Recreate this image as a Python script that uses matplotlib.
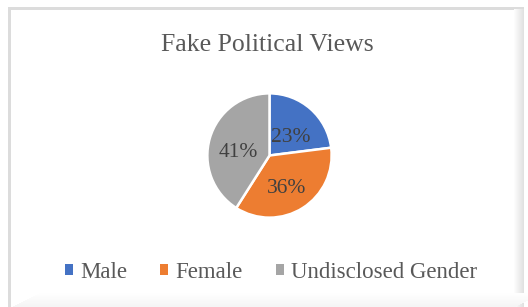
import numpy as np
import matplotlib
matplotlib.use("Agg")
import matplotlib.pyplot as plt
from matplotlib.patches import Rectangle

# Data
categories = ["Male", "Female", "Undisclosed Gender"]
shares = [23, 36, 41]
colors = ["#4472C4", "#ED7D31", "#A5A5A5"]
title = "Fake Political Views"

plt.rcParams["font.family"] = ["Liberation Serif", "DejaVu Serif"]

W, H = 528, 307
fig = plt.figure(figsize=(W / 100, H / 100), dpi=100)
fig.patch.set_facecolor("white")

# --- frame (beveled Excel-ish border) ---
def px(x, y, w, h, c):
    fig.patches.append(Rectangle((x / W, 1 - (y + h) / H), w / W, h / H,
                                 transform=fig.transFigure, facecolor=c,
                                 edgecolor="none", zorder=0))

px(8, 7, 516, 3, "#dcdcdc")      # top
px(8, 7, 3, 300, "#dcdcdc")      # left
for i in range(10):               # right shading
    g = 0.99 - 0.012 * i
    px(514 + i, 9, 1, 298, (g, g, g))
for i in range(14):               # bottom shading
    g = 0.998 - 0.003 * i
    px(11 + 28 - 2 * i, 293 + i, 503, 1, (g, g, g))

# --- pie ---
cx, cy, r = 269.5, 155.5, 62
ax = fig.add_axes([(cx - r - 2) / W, 1 - (cy + r + 2) / H,
                   (2 * r + 4) / W, (2 * r + 4) / H])
wedges, texts, autotexts = ax.pie(
    shares, colors=colors, startangle=90, counterclock=False,
    autopct="%d%%", pctdistance=0.52,
    wedgeprops=dict(edgecolor="white", linewidth=1.8),
    textprops=dict(color="#404040", fontsize=15.5))
# labels sit a little lower in the original
for t in autotexts:
    x, y = t.get_position()
    t.set_position((x, y - 0.1))
ax.set_xlim(-1.03, 1.03)
ax.set_ylim(-1.03, 1.03)
ax.set_aspect("equal")
ax.axis("off")

fig.text(267 / W, 1 - 45 / H, title, ha="center", va="center",
         fontsize=18.5, color="#595959")

# --- legend ---
leg = fig.legend(wedges, categories, loc="center", ncol=3,
                 bbox_to_anchor=(271 / W, 1 - 272 / H), frameon=False,
                 fontsize=16.5, handlelength=0.35, handleheight=0.35,
                 handletextpad=0.3, columnspacing=1.45, labelcolor="#595959")
for h in leg.legend_handles:
    h.set_edgecolor("none")

fig.savefig("out.png", dpi=100, facecolor="white")
